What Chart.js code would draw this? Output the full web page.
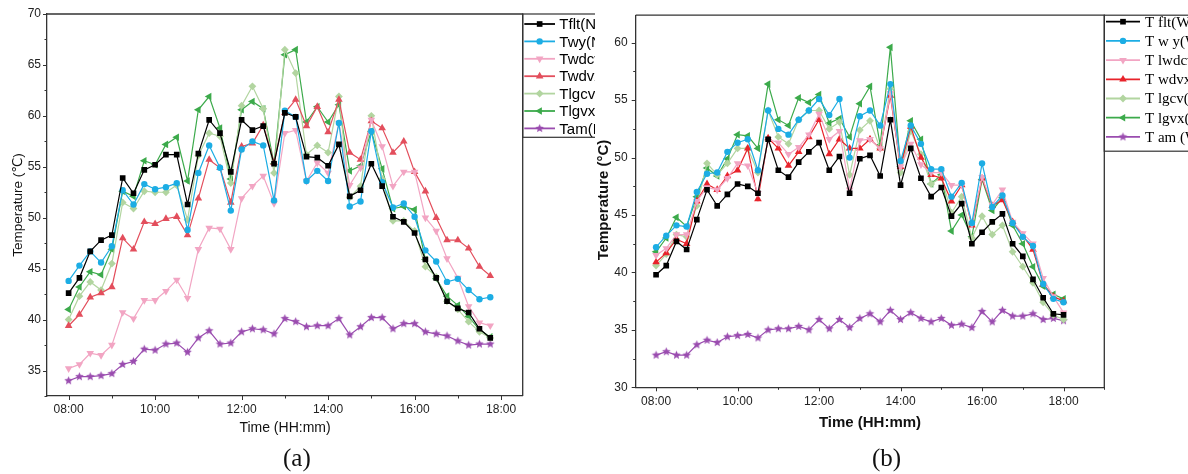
<!DOCTYPE html>
<html>
<head>
<meta charset="utf-8">
<script src="https://cdn.jsdelivr.net/npm/chart.js@4.4.1/dist/chart.umd.min.js"></script>
<style>
  html, body { margin: 0; padding: 0; background: #fff; }
  #wrap { position: relative; width: 1188px; height: 474px; overflow: hidden; background: #fff; }
  #chartA { position: absolute; left: 0; top: 0; }
  #chartB { position: absolute; left: 590px; top: 0; }
  .tag { position: absolute; top: 445px; font: 25px "Liberation Serif", serif; line-height: 25px; color: #111; }
</style>
</head>
<body>
<div id="wrap">
  <canvas id="chartA" width="595" height="474"></canvas>
  <canvas id="chartB" width="598" height="474"></canvas>
  <div class="tag" style="left:283px">(a)</div>
  <div class="tag" style="left:872px">(b)</div>
</div>
<script>
// ---- datos ----
const horasA = ['08:00', '08:15', '08:30', '08:45', '09:00', '09:15', '09:30', '09:45', '10:00', '10:15',
    '10:30', '10:45', '11:00', '11:15', '11:30', '11:45', '12:00', '12:15', '12:30', '12:45',
    '13:00', '13:15', '13:30', '13:45', '14:00', '14:15', '14:30', '14:45', '15:00', '15:15',
    '15:30', '15:45', '16:00', '16:15', '16:30', '16:45', '17:00', '17:15', '17:30', '17:45'];
const horasB = ['08:00', '08:15', '08:30', '08:45', '09:00', '09:15', '09:30', '09:45', '10:00', '10:15',
    '10:30', '10:45', '11:00', '11:15', '11:30', '11:45', '12:00', '12:15', '12:30', '12:45',
    '13:00', '13:15', '13:30', '13:45', '14:00', '14:15', '14:30', '14:45', '15:00', '15:15',
    '15:30', '15:45', '16:00', '16:15', '16:30', '16:45', '17:00', '17:15', '17:30', '17:45', '18:00'];

const etiquetasA = ['Tflt(N)', 'Twy(N)', 'Twdcv(N)', 'Twdvx(N)', 'Tlgcv(N)', 'Tlgvx(N)', 'Tam(N)'];
const etiquetasB = ['T flt(W)', 'T w y(W)', 'T lwdcv(W)', 'T wdvx(W)', 'T lgcv(W)', 'T lgvx(W)', 'T am (W)'];

const ticksX = ['08:00', '10:00', '12:00', '14:00', '16:00', '18:00'];
const ticksYA = [35, 40, 45, 50, 55, 60, 65, 70];
const ticksYB = [30, 35, 40, 45, 50, 55, 60];

// panel (a)
const tfltA = [42.6, 44.1, 46.7, 47.8, 48.3, 53.9, 52.4, 54.7, 55.2, 56.2,
    56.2, 51.3, 56.3, 59.6, 58.3, 54.5, 59.6, 58.6, 59.0, 55.3,
    60.3, 59.9, 56.0, 55.9, 55.1, 57.2, 52.1, 52.7, 55.3, 53.1,
    50.1, 49.6, 48.5, 45.9, 44.1, 41.8, 41.1, 40.7, 39.1, 38.2];
const twyA = [43.8, 45.3, 46.7, 45.6, 47.2, 52.7, 51.3, 53.3, 52.8, 53.0,
    53.4, 48.8, 54.4, 57.1, 54.9, 50.7, 56.7, 57.5, 57.1, 51.7,
    60.5, 59.9, 53.6, 54.6, 53.6, 59.3, 51.1, 51.6, 58.5, 53.5,
    51.0, 51.4, 50.1, 46.8, 45.7, 43.7, 44.0, 42.9, 42.0, 42.2];
const twdcvA = [35.2, 35.6, 36.7, 36.5, 37.5, 40.7, 40.1, 41.9, 41.9, 42.8,
    43.9, 42.1, 46.9, 49.0, 48.9, 46.9, 51.9, 53.1, 54.1, 51.4,
    58.3, 58.6, 53.6, 55.4, 54.4, 59.3, 53.2, 54.9, 59.6, 57.0,
    53.1, 54.5, 54.5, 50.0, 48.7, 46.0, 44.1, 41.3, 39.7, 39.4];
const twdvxA = [39.4, 40.5, 42.2, 42.6, 43.2, 48.0, 46.9, 49.6, 49.4, 49.9,
    50.1, 48.3, 51.9, 55.7, 54.9, 51.5, 57.0, 57.3, 59.1, 55.4,
    60.3, 61.6, 59.0, 60.9, 58.4, 61.6, 56.4, 55.7, 59.5, 58.8,
    56.4, 57.5, 54.5, 52.6, 50.0, 47.8, 47.8, 47.0, 45.2, 44.3];
const tlgcvA = [40.0, 42.3, 43.7, 42.9, 45.5, 51.5, 50.9, 52.6, 52.5, 52.5,
    53.2, 49.8, 56.1, 58.3, 58.0, 53.4, 61.0, 62.9, 60.7, 54.4,
    66.5, 64.2, 56.2, 57.1, 56.4, 61.9, 52.0, 53.1, 60.0, 53.8,
    49.7, 49.7, 48.7, 45.2, 44.2, 41.8, 41.0, 39.8, 38.8, 38.2];
const tlgvxA = [41.0, 43.2, 44.7, 44.4, 46.9, 52.6, 52.1, 55.6, 55.2, 57.2,
    57.9, 53.6, 60.6, 61.9, 58.8, 53.8, 60.6, 61.4, 60.7, 55.3,
    66.0, 66.5, 59.4, 60.9, 59.4, 61.1, 54.6, 55.1, 58.5, 54.8,
    50.9, 51.1, 50.8, 45.9, 44.0, 42.3, 41.4, 40.3, 39.0, 38.3];
const tamA = [34.0, 34.4, 34.4, 34.5, 34.7, 35.6, 35.9, 37.1, 37.0, 37.6,
    37.7, 36.8, 38.2, 38.9, 37.6, 37.7, 38.8, 39.1, 39.0, 38.6,
    40.1, 39.8, 39.3, 39.4, 39.4, 40.1, 38.5, 39.3, 40.2, 40.2,
    39.1, 39.6, 39.6, 38.8, 38.6, 38.4, 37.9, 37.5, 37.6, 37.6];

// panel (b)
const tfltB = [39.8, 40.6, 42.7, 42.0, 44.6, 47.2, 45.8, 46.8, 47.7, 47.5,
    46.9, 51.6, 48.9, 48.3, 49.6, 50.5, 51.3, 48.9, 50.1, 46.9,
    49.9, 50.2, 48.4, 53.3, 47.6, 50.8, 48.2, 46.6, 47.4, 44.9,
    46.0, 42.5, 43.5, 44.4, 45.1, 42.5, 41.4, 39.4, 37.8, 36.4, 36.3];
const twyB = [42.2, 43.2, 44.1, 44.0, 47.0, 48.6, 48.7, 50.5, 51.3, 51.6,
    48.9, 54.1, 52.5, 52.0, 53.3, 54.1, 55.1, 53.7, 55.1, 50.0,
    53.6, 54.1, 52.8, 56.4, 49.7, 52.8, 51.2, 49.0, 49.0, 46.6,
    47.8, 44.3, 49.5, 45.7, 46.7, 44.3, 43.1, 42.3, 39.0, 37.7, 37.4];
const twdcvB = [41.5, 42.1, 43.3, 43.3, 46.2, 47.4, 47.2, 48.2, 49.5, 49.3,
    46.9, 51.6, 51.3, 50.3, 50.9, 52.0, 53.8, 51.6, 52.3, 47.2,
    51.5, 51.6, 50.8, 55.6, 49.2, 51.2, 49.4, 48.7, 48.7, 47.6,
    47.6, 44.2, 48.3, 45.9, 47.2, 44.4, 43.4, 42.5, 39.5, 37.9, 36.5];
const twdvxB = [40.9, 41.7, 42.9, 42.5, 46.2, 47.7, 47.2, 48.4, 48.9, 50.8,
    46.4, 51.7, 50.8, 49.3, 50.5, 51.8, 53.3, 50.3, 51.6, 50.8,
    50.8, 51.6, 50.8, 55.4, 49.2, 52.7, 50.0, 48.5, 48.2, 46.2,
    47.6, 44.1, 48.2, 45.8, 46.3, 44.4, 43.2, 42.0, 39.0, 37.9, 37.5];
const tlgcvB = [40.6, 41.6, 43.3, 43.1, 45.8, 49.5, 48.5, 49.5, 50.8, 50.8,
    48.7, 54.1, 51.8, 51.2, 53.3, 54.1, 54.1, 52.5, 53.1, 48.5,
    52.4, 53.2, 50.8, 56.0, 48.7, 52.3, 50.3, 47.7, 48.3, 45.2,
    46.6, 43.0, 44.9, 43.3, 44.1, 41.8, 40.5, 39.1, 37.4, 36.3, 35.9];
const tlgvxB = [41.8, 43.0, 44.8, 44.0, 46.6, 49.1, 48.4, 49.9, 52.0, 51.9,
    50.8, 56.4, 53.3, 52.8, 55.2, 54.8, 55.5, 53.0, 53.4, 51.8,
    54.7, 56.2, 51.1, 59.6, 49.2, 53.2, 51.6, 47.7, 48.5, 43.6,
    45.0, 43.1, 48.1, 45.4, 46.5, 44.1, 42.5, 40.5, 38.8, 38.1, 37.7];
const tamB = [32.8, 33.1, 32.8, 32.8, 33.7, 34.1, 33.9, 34.4, 34.5, 34.6,
    34.3, 35.0, 35.1, 35.1, 35.3, 35.0, 35.9, 35.1, 35.9, 35.2,
    36.0, 36.4, 35.7, 36.7, 35.9, 36.5, 36.0, 35.7, 36.0, 35.4,
    35.5, 35.2, 36.6, 35.7, 36.7, 36.2, 36.2, 36.4, 35.9, 36.0, 35.8];

// ---- estilo ----
const toHoras = t => {
    const [h, m] = t.split(':').map(Number);
    return h + m / 60;
};

const estrella = (color, r) => {
    const c = document.createElement('canvas');
    const s = Math.ceil(r * 2) + 2;
    c.width = s;
    c.height = s;
    const g = c.getContext('2d');
    g.fillStyle = color;
    g.beginPath();
    for (let k = 0; k < 10; k++) {
        const rr = k % 2 ? r * 0.45 : r;
        const a = -Math.PI / 2 + k * Math.PI / 5;
        g.lineTo(s / 2 + rr * Math.cos(a), s / 2 + rr * Math.sin(a));
    }
    g.closePath();
    g.fill();
    return c;
};

const coloresA = ['#000000', '#1CADE4', '#F2A5C3', '#E34E5C', '#B2D5A0', '#3CAA4B', '#9A4CAF'];
const coloresB = ['#000000', '#1CADE4', '#F2A5C3', '#E8232B', '#B2D5A0', '#3CAA4B', '#9A4CAF'];

const marcadores = [
    { pointStyle: 'rect', radius: 4, rotation: 0 },
    { pointStyle: 'circle', radius: 3.2, rotation: 0 },
    { pointStyle: 'triangle', radius: 4.4, rotation: 180 },
    { pointStyle: 'triangle', radius: 4.4, rotation: 0 },
    { pointStyle: 'rectRot', radius: 3.9, rotation: 0 },
    { pointStyle: 'triangle', radius: 4.4, rotation: -90 },
    { pointStyle: estrella('#9A4CAF', 4.5), radius: 4.5, rotation: 0 }
];

const crearSeries = (etiquetas, horas, valores, colores) => valores.map((vals, i) => ({
    label: etiquetas[i],
    data: vals.map((v, k) => ({ x: toHoras(horas[k]), y: v })),
    borderColor: colores[i],
    backgroundColor: colores[i],
    borderWidth: 1.2,
    pointStyle: marcadores[i].pointStyle,
    pointRadius: marcadores[i].radius,
    pointRotation: marcadores[i].rotation,
    pointBorderWidth: 0,
    tension: 0
}));

// marco, ticks, titulos y leyenda
const marco = {
    id: 'marco',
    afterDraw(chart, args, o) {
        const { ctx, chartArea: a, scales: { x, y } } = chart;
        ctx.save();
        ctx.strokeStyle = '#333';
        ctx.lineWidth = 1.3;
        ctx.beginPath();
        ctx.moveTo(a.left, a.top);
        ctx.lineTo(a.right, a.top);
        ctx.lineTo(a.right, a.bottom);
        ctx.stroke();

        ctx.lineWidth = 1;
        ctx.beginPath();
        const xs = ticksX.map(toHoras);
        const paso = xs[1] - xs[0];
        const xMin = [xs[0] - paso / 2, ...xs.map(v => v + paso / 2)];
        xs.forEach(v => {
            const px = Math.round(x.getPixelForValue(v)) + 0.5;
            ctx.moveTo(px, a.bottom);
            ctx.lineTo(px, a.bottom + 4);
        });
        xMin.filter(v => v >= x.min && v <= x.max).forEach(v => {
            const px = Math.round(x.getPixelForValue(v)) + 0.5;
            ctx.moveTo(px, a.bottom);
            ctx.lineTo(px, a.bottom + 2.5);
        });
        const ys = o.ticksY;
        const pasoY = ys[1] - ys[0];
        const yMin = [ys[0] - pasoY / 2, ...ys.map(v => v + pasoY / 2)];
        ys.forEach(v => {
            const py = Math.round(y.getPixelForValue(v)) + 0.5;
            ctx.moveTo(a.left, py);
            ctx.lineTo(a.left - 4, py);
        });
        yMin.filter(v => v >= y.min && v <= y.max).forEach(v => {
            const py = Math.round(y.getPixelForValue(v)) + 0.5;
            ctx.moveTo(a.left, py);
            ctx.lineTo(a.left - 2.5, py);
        });
        ctx.stroke();

        // titulos de ejes
        ctx.fillStyle = '#111';
        ctx.textAlign = 'center';
        ctx.textBaseline = 'middle';
        ctx.font = o.tituloX.font;
        ctx.fillText(o.tituloX.text, o.tituloX.x, o.tituloX.y);
        ctx.save();
        ctx.translate(o.tituloY.x, o.tituloY.y);
        ctx.rotate(-Math.PI / 2);
        ctx.font = o.tituloY.font;
        ctx.fillText(o.tituloY.text, 0, 0);
        ctx.restore();

        // leyenda
        const L = o.leyenda;
        ctx.strokeStyle = '#333';
        ctx.lineWidth = 1.2;
        ctx.strokeRect(a.right, a.top, 200, L.alto);
        ctx.font = L.font;
        ctx.textAlign = 'left';
        chart.data.datasets.forEach((ds, i) => {
            const fy = L.fila0 + i * L.paso;
            ctx.strokeStyle = ds.borderColor;
            ctx.fillStyle = ds.borderColor;
            ctx.lineWidth = 1.8;
            ctx.beginPath();
            ctx.moveTo(a.right + L.linea[0], fy);
            ctx.lineTo(a.right + L.linea[1], fy);
            ctx.stroke();
            Chart.helpers.drawPoint(ctx, {
                pointStyle: ds.pointStyle,
                rotation: ds.pointRotation,
                radius: ds.pointRadius,
                borderWidth: 0
            }, a.right + (L.linea[0] + L.linea[1]) / 2, fy);
            ctx.fillStyle = '#000';
            ctx.fillText(ds.label, a.right + L.texto, fy + 1);
        });
        ctx.restore();
    }
};

const fuenteTicks = { family: '"Liberation Sans", Arial, sans-serif', size: 12 };

const crearGrafica = (id, cfg) => new Chart(document.getElementById(id), {
    type: 'line',
    data: { datasets: cfg.series },
    options: {
        responsive: false,
        animation: false,
        events: [],
        layout: { padding: cfg.padding },
        plugins: {
            legend: { display: false },
            tooltip: { enabled: false },
            marco: cfg.marco
        },
        scales: {
            x: {
                type: 'linear',
                min: cfg.xMin,
                max: cfg.xMax,
                afterBuildTicks: s => { s.ticks = ticksX.map(t => ({ value: toHoras(t) })); },
                afterFit: s => { s.height = cfg.altoX; },
                ticks: {
                    callback: v => ticksX.find(t => toHoras(t) === v) || '',
                    font: fuenteTicks,
                    color: '#222',
                    padding: cfg.padX,
                    maxRotation: 0,
                    autoSkip: false
                },
                grid: { display: false, drawTicks: false },
                border: { display: true, color: '#333', width: 1.3 }
            },
            y: {
                min: cfg.yMin,
                max: cfg.yMax,
                afterBuildTicks: s => { s.ticks = cfg.marco.ticksY.map(v => ({ value: v })); },
                afterFit: s => { s.width = cfg.anchoY; },
                ticks: {
                    font: fuenteTicks,
                    color: '#222',
                    padding: cfg.padY,
                    autoSkip: false
                },
                grid: { display: false, drawTicks: false },
                border: { display: true, color: '#333', width: 1.3 }
            }
        }
    },
    plugins: [marco]
});

crearGrafica('chartA', {
    series: crearSeries(etiquetasA, horasA, [tfltA, twyA, twdcvA, twdvxA, tlgcvA, tlgvxA, tamA], coloresA),
    padding: { top: 14, right: 72.3, left: 0, bottom: 0 },
    xMin: 7.5, xMax: 18.5, yMin: 32.5, yMax: 70,
    altoX: 78, anchoY: 47, padX: 6, padY: 6,
    marco: {
        ticksY: ticksYA,
        tituloX: { text: 'Time (HH:mm)', x: 285, y: 428, font: '14px "Liberation Sans", Arial, sans-serif' },
        tituloY: { text: 'Temperature (℃)', x: 18, y: 205, font: '13.5px "Liberation Sans", "DejaVu Sans", Arial, sans-serif' },
        leyenda: { alto: 123.3, fila0: 24, paso: 17.4, linea: [1.6, 32.3], texto: 36.6,
            font: '15px "Liberation Sans", Arial, sans-serif' }
    }
});

crearGrafica('chartB', {
    series: crearSeries(etiquetasB, horasB, [tfltB, twyB, twdcvB, twdvxB, tlgcvB, tlgvxB, tamB], coloresB),
    padding: { top: 11.7, right: 83.7, left: 0, bottom: 0 },
    xMin: 7.5, xMax: 19, yMin: 30, yMax: 62.4,
    altoX: 86.7, anchoY: 45.7, padX: 7, padY: 8,
    marco: {
        ticksY: ticksYB,
        tituloX: { text: 'Time (HH:mm)', x: 280, y: 423, font: 'bold 15px "Liberation Sans", Arial, sans-serif' },
        tituloY: { text: 'Temperature (°C)', x: 14, y: 200, font: 'bold 15px "Liberation Sans", Arial, sans-serif' },
        leyenda: { alto: 136, fila0: 21.7, paso: 19.2, linea: [1.7, 35.7], texto: 40.7,
            font: '15px "Liberation Serif", serif' }
    }
});
</script>
</body>
</html>
